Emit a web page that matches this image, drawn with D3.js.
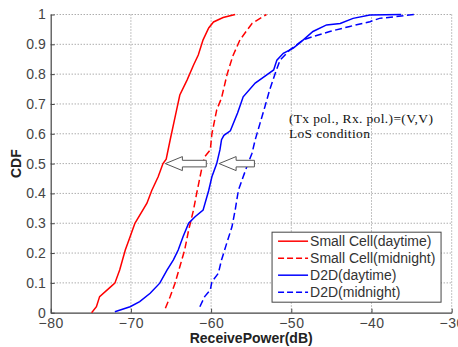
<!DOCTYPE html>
<html>
<head>
<meta charset="utf-8">
<script src="https://cdn.jsdelivr.net/npm/d3@7"></script>
<style>
  body { margin: 0; background: #fff; }
  svg { display: block; }
  .tick text { font-family: "Liberation Sans", Arial, sans-serif; fill: #444; }
</style>
</head>
<body>
<div class="chart"></div>
<script>
// CDF curves, [ReceivePower dB, CDF]
const smallCellDay = [[-74.9,0],[-74.3,0.02],[-73.9,0.054],[-72.6,0.085],[-72.0,0.099],[-71.4,0.143],[-70.7,0.21],[-70.1,0.255],[-69.5,0.30],
  [-68.0,0.367],[-67.4,0.41],[-66.6,0.456],[-66.0,0.5],[-65.6,0.515],[-65.1,0.58],[-64.3,0.68],[-63.9,0.73],[-63.0,0.78],[-62.2,0.83],
  [-61.6,0.864],[-61.0,0.915],[-60.3,0.955],[-59.7,0.975],[-58.5,0.99],[-57.0,1.0]];
const smallCellNight = [[-65.7,0.015],[-65.1,0.054],[-64.5,0.099],[-63.9,0.154],[-63.3,0.21],[-62.8,0.277],[-62.2,0.344],[-61.8,0.40],
  [-61.2,0.479],[-60.8,0.523],[-60.1,0.546],[-59.9,0.60],[-59.3,0.68],[-58.7,0.72],[-58.0,0.80],[-57.3,0.86],[-56.4,0.915],
  [-54.9,0.97],[-53.1,1.0]];
const d2dDay = [[-72.0,0.003],[-70.1,0.02],[-68.9,0.037],[-67.6,0.065],[-66.4,0.099],[-65.5,0.143],[-64.7,0.177],[-64.1,0.21],[-63.5,0.255],
  [-62.8,0.30],[-62.0,0.322],[-61.0,0.344],[-60.3,0.41],[-59.9,0.456],[-59.3,0.50],[-58.9,0.546],[-58.7,0.58],[-58.4,0.595],
  [-57.6,0.61],[-56.7,0.67],[-56.0,0.724],[-54.5,0.77],[-53.1,0.797],[-52.2,0.814],[-51.8,0.847],[-51.0,0.87],[-49.75,0.887],
  [-48.5,0.915],[-47.3,0.943],[-45.6,0.965],[-43.9,0.97],[-42.3,0.987],[-40.2,0.998],[-36.3,1.0]];
const d2dNight = [[-61.4,0.02],[-60.8,0.054],[-60.1,0.076],[-59.9,0.104],[-59.1,0.132],[-58.7,0.177],[-58.05,0.233],[-57.4,0.288],
  [-57.0,0.344],[-56.6,0.41],[-56.0,0.456],[-55.4,0.50],[-54.9,0.535],[-54.5,0.58],[-53.9,0.635],[-53.3,0.69],[-52.7,0.747],
  [-52.0,0.803],[-51.4,0.847],[-50.2,0.881],[-48.5,0.915],[-47.3,0.926],[-45.2,0.943],[-42.7,0.96],[-40.2,0.976],[-39.0,0.987],[-34.6,1.0]];

const seriesNames = ["Small Cell(daytime)", "Small Cell(midnight)", "D2D(daytime)", "D2D(midnight)"];
const seriesData = [smallCellDay, smallCellNight, d2dDay, d2dNight];
const seriesColors = ["#ff0000", "#ff0000", "#0000ff", "#0000ff"];
const seriesDashed = [false, true, false, true];

const xTicks = [-80, -70, -60, -50, -40, -30];
const yTicks = [0, 0.1, 0.2, 0.3, 0.4, 0.5, 0.6, 0.7, 0.8, 0.9, 1];

// shift arrows (dB from -> to, at CDF level)
const arrows = [{from: -60.6, to: -65.7, y: 0.5}, {from: -54.6, to: -59.0, y: 0.5}];

const margin = {top: 14.5, left: 50.7, right: 6.3, bottom: 34.3};
const W = 458, H = 347;
const width = W - margin.left - margin.right,
    height = H - margin.top - margin.bottom;

const svg = d3.select(".chart").append("svg")
    .attr("width", W)
    .attr("height", H);

const g = svg.append("g")
    .attr("transform", `translate(${margin.left},${margin.top})`);

const x = d3.scaleLinear().domain([-80, -30]).range([0, width]);
const y = d3.scaleLinear().domain([0, 1]).range([height, 0]);

// dotted grid
g.append("g").selectAll("line")
    .data(xTicks.slice(1))
    .join("line")
    .attr("x1", d => x(d)).attr("x2", d => x(d))
    .attr("y1", 0).attr("y2", height)
    .attr("stroke", "#888").attr("stroke-width", 1)
    .attr("stroke-dasharray", "1,2");
g.append("g").selectAll("line")
    .data(yTicks.slice(1))
    .join("line")
    .attr("x1", 0).attr("x2", width)
    .attr("y1", d => y(d)).attr("y2", d => y(d))
    .attr("stroke", "#888").attr("stroke-width", 1)
    .attr("stroke-dasharray", "1,2");

// axes
const fmtX = d => d < 0 ? "\u2212" + Math.abs(d) : d;
const xAxis = g.append("g")
    .attr("transform", `translate(0,${height})`)
    .call(d3.axisBottom(x).tickValues(xTicks).tickFormat(fmtX).tickSizeInner(-4).tickSizeOuter(0).tickPadding(5));
const yAxis = g.append("g")
    .call(d3.axisLeft(y).tickValues(yTicks).tickFormat(d3.format("~g")).tickSizeInner(-4).tickSizeOuter(0).tickPadding(5));

[xAxis, yAxis].forEach(a => {
    a.select(".domain").attr("stroke", "#444").attr("stroke-width", 1.2);
    a.selectAll(".tick line").attr("stroke", "#444");
    a.selectAll(".tick text").attr("font-size", 14);
});
xAxis.selectAll(".tick text").attr("letter-spacing", 0.5);

// curves
const line = d3.line().x(d => x(d[0])).y(d => y(d[1]));
g.append("g").selectAll("path")
    .data(seriesData)
    .join("path")
    .attr("d", line)
    .attr("fill", "none")
    .attr("stroke", (d, i) => seriesColors[i])
    .attr("stroke-width", 1.5)
    .attr("stroke-dasharray", (d, i) => seriesDashed[i] ? "7,3.5" : null);

// hollow arrows
const headLen = 17, headH = 7, bodyH = 3.3;
g.append("g").selectAll("path")
    .data(arrows)
    .join("path")
    .attr("d", d => {
        const x0 = x(d.to), x1 = x(d.from), yc = y(d.y), xh = x0 + headLen;
        return `M${x0},${yc} L${xh},${yc - headH} L${xh},${yc - bodyH} L${x1},${yc - bodyH} L${x1},${yc + bodyH} L${xh},${yc + bodyH} L${xh},${yc + headH} Z`;
    })
    .attr("fill", "#fff")
    .attr("stroke", "#555")
    .attr("stroke-width", 1);

// annotation
const note = g.append("text")
    .attr("font-family", "'Liberation Serif', 'Times New Roman', serif")
    .attr("font-size", 13.5)
    .attr("fill", "#111");
note.append("tspan")
    .attr("x", x(-50.3)).attr("y", y(0.635))
    .attr("textLength", 144).attr("lengthAdjust", "spacing")
    .text("(Tx pol., Rx. pol.)=(V,V)");
note.append("tspan")
    .attr("x", x(-50.3)).attr("y", y(0.635) + 14.5)
    .attr("textLength", 81).attr("lengthAdjust", "spacing")
    .text("LoS condition");

// legend
const lg = g.append("g").attr("transform", `translate(${x(-52.4)},${y(0.27)})`);
lg.append("rect")
    .attr("width", 169).attr("height", 70)
    .attr("fill", "#fff").attr("stroke", "#444").attr("stroke-width", 1);
const rows = lg.selectAll("g.row")
    .data(seriesNames)
    .join("g")
    .attr("class", "row")
    .attr("transform", (d, i) => `translate(0,${9 + i * 17})`);
rows.append("line")
    .attr("x1", 6).attr("x2", 36)
    .attr("stroke", (d, i) => seriesColors[i])
    .attr("stroke-width", 1.5)
    .attr("stroke-dasharray", (d, i) => seriesDashed[i] ? "6,3" : null);
rows.append("text")
    .attr("x", 38).attr("dy", "0.35em")
    .attr("font-family", "'Liberation Sans', Arial, sans-serif")
    .attr("font-size", 14)
    .attr("fill", "#333")
    .text(d => d);

// axis titles
svg.append("text")
    .attr("x", margin.left + width / 2)
    .attr("y", H - 4)
    .attr("text-anchor", "middle")
    .attr("font-family", "'Liberation Sans', Arial, sans-serif")
    .attr("font-weight", "bold")
    .attr("font-size", 14)
    .attr("fill", "#222")
    .text("ReceivePower(dB)");
svg.append("text")
    .attr("transform", `translate(21,${margin.top + height / 2}) rotate(-90)`)
    .attr("text-anchor", "middle")
    .attr("font-family", "'Liberation Sans', Arial, sans-serif")
    .attr("font-weight", "bold")
    .attr("font-size", 14)
    .attr("fill", "#222")
    .text("CDF");
</script>
</body>
</html>
